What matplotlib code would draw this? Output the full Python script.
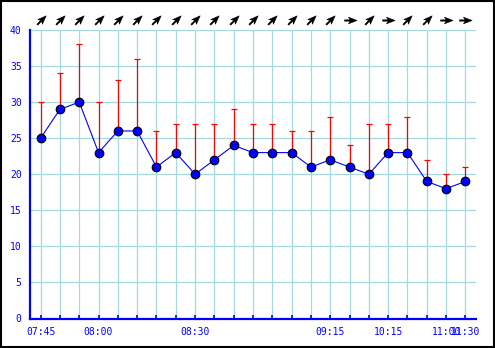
import matplotlib
matplotlib.use("Agg")
import matplotlib.pyplot as plt
import numpy as np
from matplotlib.path import Path
from matplotlib.patches import Rectangle
from matplotlib.transforms import blended_transform_factory

# wind speed and gusts per reading
speed = [25, 29, 30, 23, 26, 26, 21, 23, 20, 22, 24, 23,
         23, 23, 21, 22, 21, 20, 23, 23, 19, 18, 19]
gust = [30, 34, 38, 30, 33, 36, 26, 27, 27, 27, 29, 27,
        27, 26, 26, 28, 24, 27, 27, 28, 22, 20, 21]
direction = ["SW", "SW", "SW", "SW", "SW", "SW", "SW", "SW", "SW", "SW", "SW", "SW",
             "SW", "SW", "SW", "SW", "W", "SW", "W", "SW", "SW", "W", "W"]

label_idx = [0, 3, 8, 15, 18, 21, 22]
label_txt = ["07:45", "08:00", "08:30", "09:15", "10:15", "11:00", "11:30"]

BLUE = "#0000ff"
GRID = "#a6d8e2"
heading = {"SW": 45, "W": 0}


def arrow_marker(angle):
    pts = np.array([(1, 0), (-0.3, 0.5), (-0.05, 0.1), (-0.9, 0.1),
                    (-0.9, -0.1), (-0.05, -0.1), (-0.3, -0.5), (1, 0)])
    a = np.deg2rad(angle)
    rot = np.array([[np.cos(a), -np.sin(a)], [np.sin(a), np.cos(a)]])
    pts = pts @ rot.T
    # two lone moveto points pin the marker box so every arrow has the same scale
    verts = np.vstack([[(1, 1), (-1, -1)], pts])
    codes = [Path.MOVETO, Path.MOVETO, Path.MOVETO] + [Path.LINETO] * 6 + [Path.CLOSEPOLY]
    return Path(verts, codes)


def program_main():
    fig = plt.figure(figsize=(4.95, 3.48), dpi=100)
    ax = fig.add_axes([30 / 495, 29.5 / 348, 446 / 495, 288.5 / 348])

    x = np.arange(len(speed))
    sp = np.array(speed)
    gu = np.array(gust)

    ax.errorbar(x, sp, yerr=[np.zeros_like(sp), gu - sp], fmt="none",
                ecolor="red", elinewidth=0.9, capsize=2.2, capthick=0.9, zorder=3)
    ax.plot(x, sp, color=BLUE, lw=0.8, marker="o", ms=6.2,
            mfc=BLUE, mec="black", mew=0.8, zorder=4)

    trans = blended_transform_factory(ax.transData, ax.transAxes)
    for i, d in enumerate(direction):
        ax.plot(i, 1.036, marker=arrow_marker(heading[d]), ms=9.5, color="black",
                mew=0.4, mec="black", transform=trans, clip_on=False, zorder=5)

    ax.set_xlim(-0.55, len(speed) - 0.45)
    ax.set_ylim(0, 40)
    ax.set_yticks(np.arange(0, 41, 5))
    ax.set_xticks(x)
    labels = [""] * len(speed)
    for i, t in zip(label_idx, label_txt):
        labels[i] = t
    ax.set_xticklabels(labels)

    ax.grid(True, color=GRID, lw=0.9, zorder=0)
    ax.set_axisbelow(True)
    for s in ["top", "right"]:
        ax.spines[s].set_visible(False)
    for s in ["left", "bottom"]:
        ax.spines[s].set_color(BLUE)
        ax.spines[s].set_linewidth(1.6)

    ax.tick_params(axis="x", direction="in", length=3, width=1.2, color=BLUE,
                   labelcolor=BLUE, labelsize=7, pad=6)
    ax.tick_params(axis="y", length=0, labelcolor=BLUE, labelsize=7, pad=6)
    for lab in ax.get_xticklabels() + ax.get_yticklabels():
        lab.set_family("DejaVu Sans Mono")

    fig.patches.append(Rectangle((0.002, 0.003), 0.995, 0.994, transform=fig.transFigure,
                                 fill=False, edgecolor="black", lw=1.5))

    plt.savefig("out.png", dpi=100)


program_main()
